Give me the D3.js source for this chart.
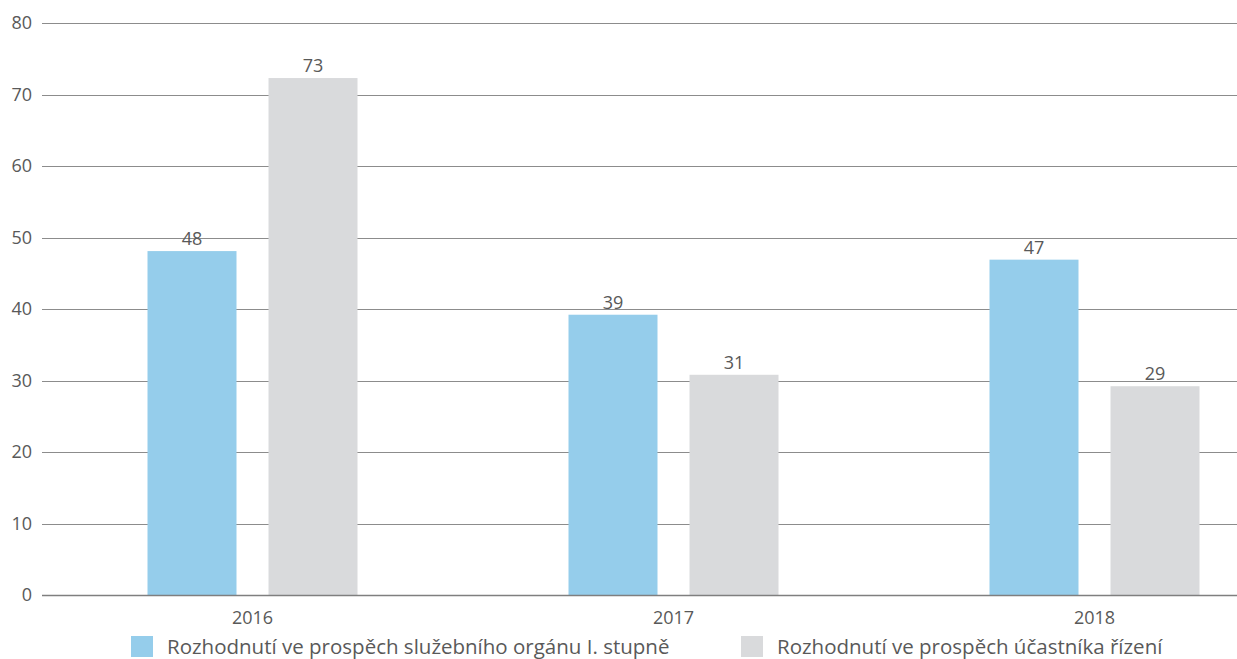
<!DOCTYPE html>
<html>
<head>
<meta charset="utf-8">
<script src="https://cdn.jsdelivr.net/npm/d3@7"></script>
<style>
  body { margin: 0; background: #fff; }
  text { font-family: "Open Sans", sans-serif; fill: #595959; }
</style>
</head>
<body>
<div id="chart"></div>
<script>
// values
var years = ["2016", "2017", "2018"];
var seriesNames = ["Rozhodnutí ve prospěch služebního orgánu I. stupně", "Rozhodnutí ve prospěch účastníka řízení"];
var organValues = [48.1, 39.2, 46.9];
var participantValues = [72.3, 30.8, 29.2];
var organLabels = ["48", "39", "47"];
var participantLabels = ["73", "31", "29"];
var yTicks = [0, 10, 20, 30, 40, 50, 60, 70, 80];

var colors = ["#95cdeb", "#d9dadc"];

var W = 1237, H = 659;
var margin = {top: 23, left: 42, bottom: 64};
var plotH = H - margin.top - margin.bottom;

var svg = d3.select("#chart").append("svg")
    .attr("width", W)
    .attr("height", H);

/* x: one band per year, inner band per series */
var x = d3.scaleBand().domain(years).range([margin.left, margin.left + 3 * 421]);
var x1 = d3.scaleBand().domain([0, 1]).range([-105, 105]).paddingInner(0.2645);

var y = d3.scaleLinear().domain([0, 80]).range([margin.top + plotH, margin.top]);

// gridlines
svg.append("g").selectAll("line")
    .data(yTicks)
    .enter().append("line")
    .attr("x1", margin.left)
    .attr("x2", W)
    .attr("y1", function (d) { return Math.round(y(d)) + 0.5; })
    .attr("y2", function (d) { return Math.round(y(d)) + 0.5; })
    .style("stroke", "#8c8c8c")
    .style("stroke-width", 1);

// y axis labels
svg.append("g").selectAll("text")
    .data(yTicks)
    .enter().append("text")
    .attr("x", 32)
    .attr("y", function (d) { return y(d); })
    .attr("dy", "0.36em")
    .style("text-anchor", "end")
    .style("font-size", "18px")
    .text(function (d) { return d; });

var rows = years.map(function (yr, i) {
    return [
        {year: yr, s: 0, v: organValues[i], label: organLabels[i]},
        {year: yr, s: 1, v: participantValues[i], label: participantLabels[i]}
    ];
});

var groups = svg.append("g").selectAll("g")
    .data(rows)
    .enter().append("g")
    .attr("transform", function (d) { return "translate(" + (x(d[0].year) + x.bandwidth() / 2) + ",0)"; });

groups.selectAll("rect")
    .data(function (d) { return d; })
    .enter().append("rect")
    .attr("x", function (d) { return x1(d.s); })
    .attr("width", x1.bandwidth())
    .attr("y", function (d) { return y(d.v); })
    .attr("height", function (d) { return y(0) - y(d.v); })
    .style("fill", function (d) { return colors[d.s]; });

groups.selectAll("text")
    .data(function (d) { return d; })
    .enter().append("text")
    .attr("x", function (d) { return x1(d.s) + x1.bandwidth() / 2; })
    .attr("y", function (d) { return y(d.v) - 6; })
    .style("text-anchor", "middle")
    .style("font-size", "18px")
    .text(function (d) { return d.label; });

// redraw the zero line on top of the bars
svg.append("line")
    .attr("x1", margin.left).attr("x2", W)
    .attr("y1", Math.round(y(0)) + 0.5).attr("y2", Math.round(y(0)) + 0.5)
    .style("stroke", "#7f7f7f").style("stroke-width", 1.5);

// category labels
svg.append("g").selectAll("text")
    .data(years)
    .enter().append("text")
    .attr("x", function (d) { return x(d) + x.bandwidth() / 2; })
    .attr("y", 624)
    .style("text-anchor", "middle")
    .style("font-size", "18px")
    .text(function (d) { return d; });

// legend
var legendX = [131, 741];
var legend = svg.append("g").selectAll("g")
    .data(seriesNames)
    .enter().append("g")
    .attr("transform", function (d, i) { return "translate(" + legendX[i] + ",636)"; });

legend.append("rect")
    .attr("width", 22).attr("height", 21)
    .style("fill", function (d, i) { return colors[i]; });

legend.append("text")
    .attr("x", 36)
    .attr("y", 18)
    .style("font-size", "20.5px")
    .text(function (d) { return d; });
</script>
</body>
</html>
